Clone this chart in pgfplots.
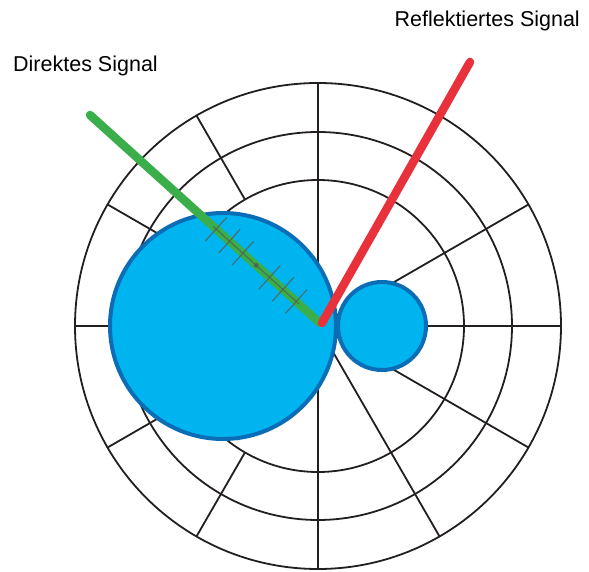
\documentclass[border=0pt]{standalone}
\usepackage{pgfplots}
\pgfplotsset{compat=1.18}
\usepackage{fontspec}
\setmainfont{Liberation Sans}
\definecolor{gridc}{HTML}{231F20}
\definecolor{bluefill}{HTML}{00B5EF}
\definecolor{blueedge}{HTML}{0A6DB5}
\definecolor{sgreen}{HTML}{3AAE4A}
\definecolor{sred}{HTML}{E8313A}
\definecolor{tickc}{HTML}{555F55}
\begin{document}
\begin{tikzpicture}
\begin{axis}[
  scale only axis, width=589pt, height=571pt,
  xmin=-318, xmax=271, ymin=-245, ymax=326,
  hide axis, clip=false,
]
\path (axis cs:-318,-245) rectangle (axis cs:271,326);
% grid spokes
\addplot[gridc, line width=1.8pt] coordinates {(-243,0) (243,0)};
\addplot[gridc, line width=1.8pt] coordinates {(0,-243) (0,243)};
\addplot[gridc, line width=1.8pt] coordinates {(0,0) (210.4,121.5)};
\addplot[gridc, line width=1.8pt] coordinates {(0,0) (121.5,210.4)};
\addplot[gridc, line width=1.8pt] coordinates {(-73,126.4) (-121.5,210.4)};
\addplot[gridc, line width=1.8pt] coordinates {(-126.4,73) (-210.4,121.5)};
\addplot[gridc, line width=1.8pt] coordinates {(-126.4,-73) (-210.4,-121.5)};
\addplot[gridc, line width=1.8pt] coordinates {(-73,-126.4) (-121.5,-210.4)};
\addplot[gridc, line width=1.8pt] coordinates {(0,0) (121.5,-210.4)};
\addplot[gridc, line width=1.8pt] coordinates {(0,0) (210.4,-121.5)};
% grid rings
\draw[gridc, line width=1.8pt] (axis cs:0,0) circle[radius=146];
\draw[gridc, line width=1.8pt] (axis cs:0,0) circle[radius=194];
\draw[gridc, line width=1.8pt] (axis cs:0,0) circle[radius=243];
% blue circles
\draw[blueedge, fill=bluefill, line width=4pt] (axis cs:-95,0) circle[radius=113];
\draw[blueedge, fill=bluefill, line width=4pt] (axis cs:64,0) circle[radius=44];
% direct signal
\addplot[sgreen, line width=8.5pt, line cap=round] coordinates {(-228,211) (2,3)};
\addplot[tickc, line width=1pt, opacity=0.85] coordinates {(-18.77,21.78) (-104.8,99.58)};
\addplot[tickc, line width=1.1pt, opacity=0.85] coordinates {(-11.0,36.33) (-32.46,12.59)};
\addplot[tickc, line width=1.1pt, opacity=0.85] coordinates {(-24.36,48.41) (-45.82,24.67)};
\addplot[tickc, line width=1.1pt, opacity=0.85] coordinates {(-37.71,60.48) (-59.17,36.74)};
\addplot[tickc, line width=1.1pt, opacity=0.85] coordinates {(-64.41,84.62) (-85.87,60.88)};
\addplot[tickc, line width=1.1pt, opacity=0.85] coordinates {(-77.76,96.70) (-99.22,72.96)};
\addplot[tickc, line width=1.1pt, opacity=0.85] coordinates {(-91.11,108.77) (-112.57,85.03)};
\addplot[only marks, mark=*, mark size=2pt, tickc] coordinates {(-61.79,60.68)};
% reflected signal
\addplot[sred, line width=8.5pt, line cap=round] coordinates {(152,264) (4,3)};
% labels
\node[anchor=base west, font=\fontsize{21.5}{26}\selectfont, inner sep=0pt] at (axis cs:-305,254) {Direktes Signal};
\node[anchor=base east, font=\fontsize{21.5}{26}\selectfont, inner sep=0pt] at (axis cs:262,299) {Reflektiertes Signal};
\end{axis}
\end{tikzpicture}
\end{document}
